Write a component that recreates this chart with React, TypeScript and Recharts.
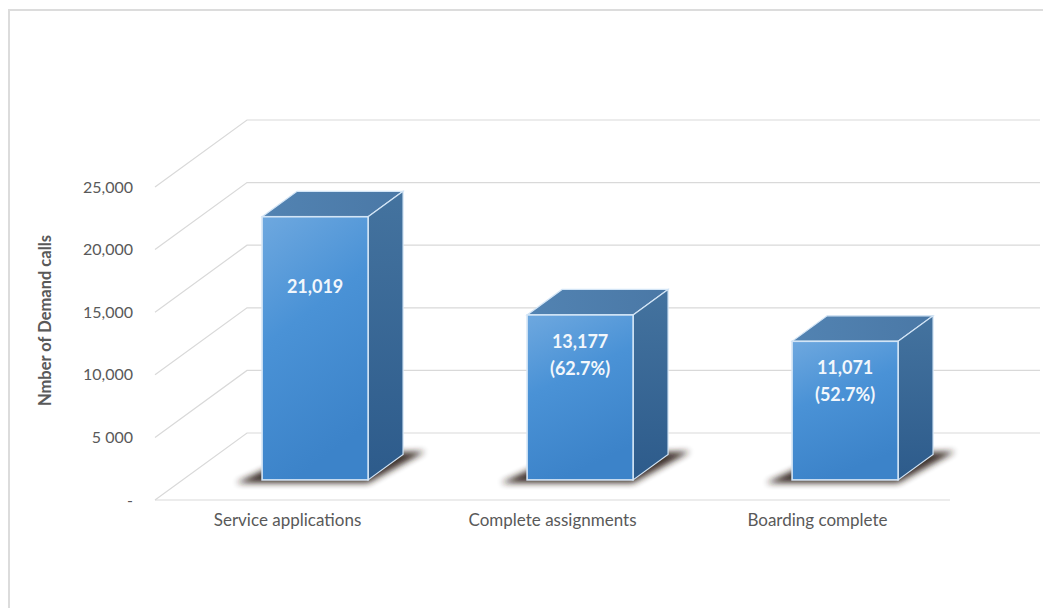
import { BarChart, Bar, XAxis, YAxis, CartesianGrid } from "recharts";

const categories = ["Service applications", "Complete assignments", "Boarding complete"];
const demandCalls = [21019, 13177, 11071];
const shareLabels = ["", "(62.7%)", "(52.7%)"];
const yTicks = [0, 5000, 10000, 15000, 20000, 25000];
const yTickLabels = ["-", "5 000", "10,000", "15,000", "20,000", "25,000"];

const data = categories.map((name, i) => ({ name, value: demandCalls[i], share: shareLabels[i] }));

// perspective of the fake 3d floor / walls
const DEPTH_X = 92;
const DEPTH_Y = 67;
const FRONT = 0.3;
const BACK = 0.68;
const GRID = "#d9d9d9";
const TEXT = "#595959";
const FONT = "Lato, 'Open Sans', sans-serif";
const LABEL_DROP = [70, 27, 26];

const GridLine = (props: any) => {
  const { x1, y1, x2, index } = props;
  const d = `M${x1},${y1} L${x1 + DEPTH_X},${y1 - DEPTH_Y} L${x2 + 90},${y1 - DEPTH_Y}`;
  return <path key={`g-${index}`} d={d} fill="none" stroke={GRID} strokeWidth={1.2} />;
};

const Box3D = (props: any) => {
  const { x, y, width, height, index, payload } = props;
  const fx = x + DEPTH_X * FRONT;
  const top = y - DEPTH_Y * FRONT;
  const bottom = y + height - DEPTH_Y * FRONT;
  const bx = DEPTH_X * (BACK - FRONT);
  const by = -DEPTH_Y * (BACK - FRONT);
  const r = fx + width;
  const cx = fx + width / 2;
  const ty = top + LABEL_DROP[index];
  const lines = [payload.value.toLocaleString("en-US"), payload.share].filter(Boolean);

  return (
    <g>
      <defs>
        <linearGradient id={`front-${index}`} x1="0" y1="0" x2="0.3" y2="1">
          <stop offset="0%" stopColor="#6ea8df" />
          <stop offset="45%" stopColor="#4a92d6" />
          <stop offset="100%" stopColor="#3c83c9" />
        </linearGradient>
        <linearGradient id={`side-${index}`} x1="0" y1="0" x2="0" y2="1">
          <stop offset="0%" stopColor="#44739f" />
          <stop offset="100%" stopColor="#2d5b8b" />
        </linearGradient>
        <linearGradient id={`top-${index}`} x1="0" y1="0" x2="1" y2="0">
          <stop offset="0%" stopColor="#5283b2" />
          <stop offset="100%" stopColor="#4a78a6" />
        </linearGradient>
        <filter id={`blur-${index}`} x="-20%" y="-50%" width="140%" height="200%">
          <feGaussianBlur stdDeviation="3" />
        </filter>
      </defs>
      <polygon
        points={`${fx - 26},${bottom + 3} ${r},${bottom + 3} ${r + bx + 22},${bottom + by - 3} ${fx + bx},${bottom + by}`}
        fill="#2a1f18"
        opacity={0.9}
        filter={`url(#blur-${index})`}
      />
      <polygon
        points={`${fx},${top} ${r},${top} ${r + bx},${top + by} ${fx + bx},${top + by}`}
        fill={`url(#top-${index})`}
        stroke="#d3e5f6"
        strokeWidth={1.2}
      />
      <polygon
        points={`${r},${top} ${r + bx},${top + by} ${r + bx},${bottom + by} ${r},${bottom}`}
        fill={`url(#side-${index})`}
        stroke="#d3e5f6"
        strokeWidth={1.2}
      />
      <rect x={fx} y={top} width={width} height={bottom - top} fill={`url(#front-${index})`} stroke="#d3e5f6" strokeWidth={1.6} />
      {lines.map((t, i) => (
        <text
          key={i}
          x={cx}
          y={ty + i * 27}
          dy="0.35em"
          textAnchor="middle"
          fill="#f2f7fc"
          fontSize={18}
          fontWeight={700}
          fontFamily={FONT}
        >
          {t}
        </text>
      ))}
    </g>
  );
};

const YTick = ({ x, y, payload, index }: any) => (
  <text x={x - 14} y={y} dy="0.35em" textAnchor="end" fill={TEXT} fontSize={16} fontFamily={FONT}>
    {yTickLabels[yTicks.indexOf(payload.value)] ?? yTickLabels[index]}
  </text>
);

const XTick = ({ x, y, payload }: any) => (
  <text x={x} y={y + 18} textAnchor="middle" fill={TEXT} fontSize={17} fontFamily={FONT}>
    {payload.value}
  </text>
);

const YTitle = ({ viewBox }: any) => {
  const cx = viewBox.x - 50;
  const cy = viewBox.y + viewBox.height / 2 - 23;
  return (
    <text
      x={cx}
      y={cy}
      dy="0.35em"
      textAnchor="middle"
      transform={`rotate(-90 ${cx} ${cy})`}
      fill={TEXT}
      fontSize={16.5}
      fontWeight={700}
      fontFamily={FONT}
    >
      Nmber of Demand calls
    </text>
  );
};

export default function App() {
  return (
    <div style={{ position: "absolute", left: 0, top: 0, width: 1043, height: 608, overflow: "hidden", background: "#fff" }}>
      <div
        style={{
          position: "absolute",
          left: 8,
          top: 9,
          width: 1050,
          height: 597,
          borderLeft: "2px solid #dcdcdc",
          borderTop: "2px solid #dcdcdc",
          borderBottom: "2px solid #dcdcdc",
        }}
      />
      <BarChart
        width={1043}
        height={608}
        data={data}
        margin={{ top: 187, right: 93, bottom: 78, left: 95 }}
        barCategoryGap="30%"
        style={{ position: "absolute", left: 0, top: 0 }}
      >
        <CartesianGrid vertical={false} horizontal={GridLine} />
        <XAxis
          dataKey="name"
          axisLine={{ stroke: GRID, strokeWidth: 1.2 }}
          tickLine={false}
          tick={<XTick />}
          interval={0}
          height={30}
        />
        <YAxis
          domain={[0, 25000]}
          ticks={yTicks}
          axisLine={false}
          tickLine={false}
          tick={<YTick />}
          width={60}
          label={<YTitle />}
        />
        <Bar dataKey="value" shape={<Box3D />} isAnimationActive={false} />
      </BarChart>
    </div>
  );
}
